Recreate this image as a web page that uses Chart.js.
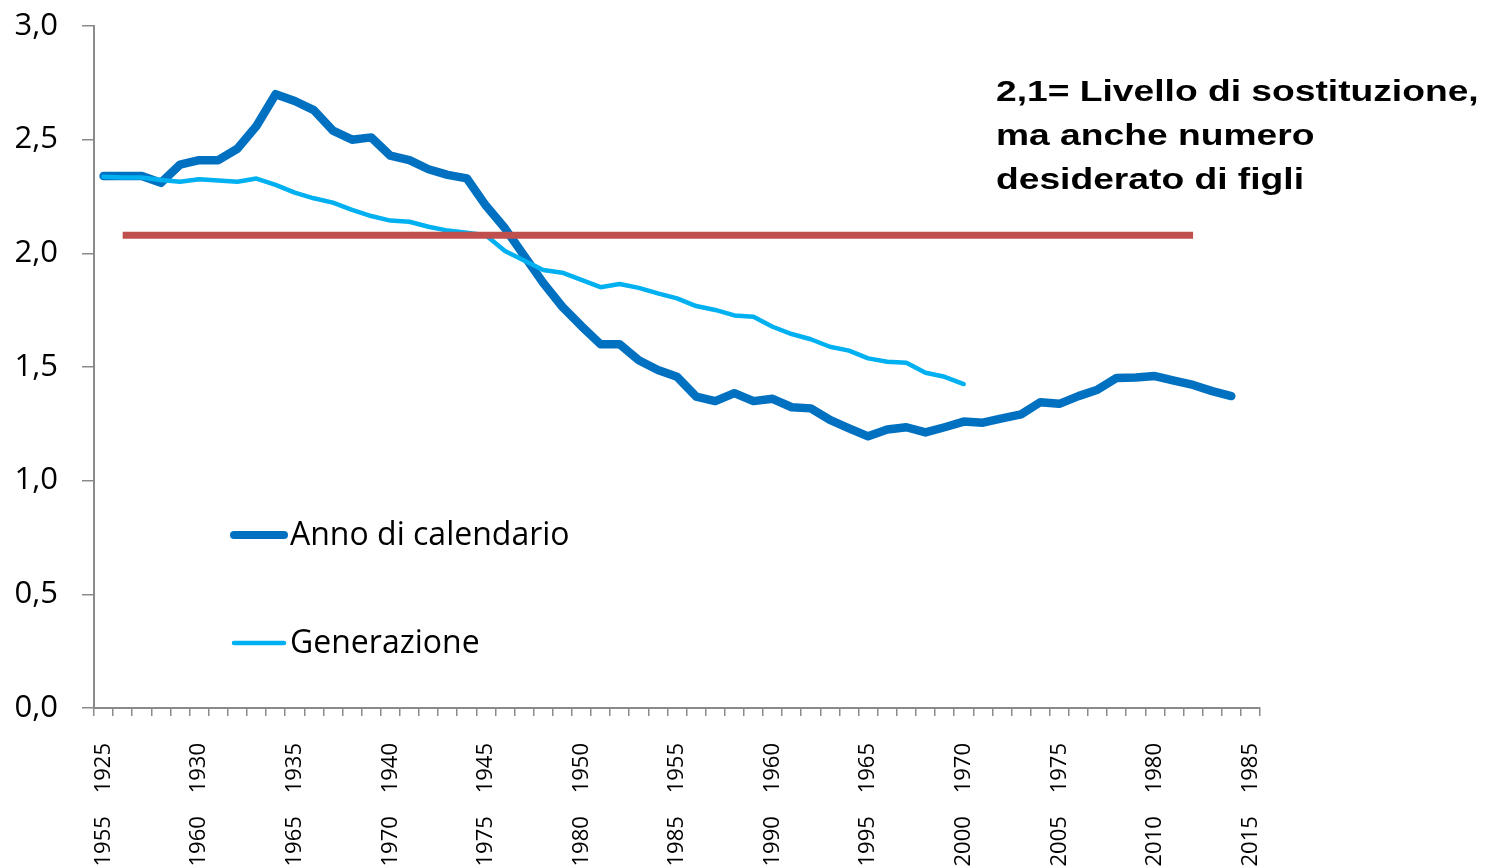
<!DOCTYPE html>
<html>
<head>
<meta charset="utf-8">
<script src="https://cdn.jsdelivr.net/npm/chart.js@4.4.1/dist/chart.umd.min.js"></script>
<style>
  html, body { margin: 0; padding: 0; background: #ffffff; }
  #wrap { position: relative; width: 1485px; height: 868px; overflow: hidden; }
  #note {
    position: absolute; left: 996px; top: 69px;
    font-family: "Liberation Sans", Arial, sans-serif; font-weight: bold;
    font-size: 30px; line-height: 44px; color: #000; white-space: nowrap;
    transform: scaleX(1.24); transform-origin: 0 0;
  }
</style>
</head>
<body>
<div id="wrap">
  <canvas id="c" width="1485" height="868"></canvas>
  <div id="note">2,1= Livello di sostituzione,<br>ma anche numero<br>desiderato di figli</div>
</div>
<script>
// Calendar years (1955-2015) and the matching generations (1925-1985)
const calendarYears = [];
for (let y = 1955; y <= 2015; y++) calendarYears.push(y);

// Tick labels shown every five years
const tickYearsCalendar = [1955,1960,1965,1970,1975,1980,1985,1990,1995,2000,2005,2010,2015];
const tickYearsGeneration = [1925,1930,1935,1940,1945,1950,1955,1960,1965,1970,1975,1980,1985];

// TFR by calendar year, 1955-2014
const annoDiCalendario = [
  2.34,2.34,2.34,2.31,2.39,2.41,2.41,2.46,2.56,2.70,
  2.67,2.63,2.54,2.50,2.51,2.43,2.41,2.37,2.345,2.33,
  2.21,2.11,1.99,1.87,1.765,1.68,1.60,1.60,1.53,1.487,
  1.457,1.37,1.35,1.385,1.35,1.36,1.323,1.318,1.267,1.23,
  1.195,1.225,1.235,1.212,1.235,1.26,1.255,1.274,1.292,1.345,
  1.338,1.372,1.40,1.452,1.454,1.46,1.44,1.421,1.394,1.372
];

// Completed fertility by generation, 1925-1970
const generazione = [
  2.337,2.334,2.334,2.323,2.315,2.326,2.32,2.315,2.329,2.301,
  2.267,2.242,2.223,2.191,2.164,2.144,2.139,2.117,2.10,2.091,
  2.08,2.01,1.968,1.927,1.915,1.883,1.851,1.865,1.848,1.824,
  1.802,1.768,1.751,1.727,1.721,1.677,1.645,1.622,1.589,1.572,
  1.538,1.523,1.519,1.475,1.457,1.425
];

// Replacement level reference line (from 1956 to 2012)
const livelloSostituzione = calendarYears.map(y => (y >= 1956 && y <= 2012) ? 2.08 : null);

const seriesNames = ['Anno di calendario', 'Generazione'];
const colDark = '#0070C0', colLight = '#00B0F0', colRed = '#C0504D';
const axisGray = '#8a8a8a';

const legendPlugin = {
  id: 'customLegend',
  afterDraw(chart) {
    const ctx = chart.ctx;
    ctx.save();
    ctx.lineCap = 'round';
    ctx.strokeStyle = colDark; ctx.lineWidth = 8;
    ctx.beginPath(); ctx.moveTo(234, 535); ctx.lineTo(284, 535); ctx.stroke();
    ctx.strokeStyle = colLight; ctx.lineWidth = 4.5;
    ctx.beginPath(); ctx.moveTo(234, 643); ctx.lineTo(284, 643); ctx.stroke();
    ctx.fillStyle = '#000';
    ctx.font = '32px "Open Sans"';
    ctx.textBaseline = 'alphabetic';
    ctx.textAlign = 'left';
    ctx.fillText(seriesNames[0], 290, 545);
    ctx.fillText(seriesNames[1], 290, 653);
    ctx.restore();
  }
};

new Chart(document.getElementById('c'), {
  type: 'line',
  data: {
    labels: calendarYears.map(String),
    datasets: [
      { label: 'Livello di sostituzione', data: livelloSostituzione, borderColor: colRed,
        borderWidth: 7, borderCapStyle: 'butt', pointRadius: 0, order: 1, spanGaps: false },
      { label: seriesNames[1], data: generazione, borderColor: colLight,
        borderWidth: 4.5, borderCapStyle: 'round', borderJoinStyle: 'round', pointRadius: 0, order: 2 },
      { label: seriesNames[0], data: annoDiCalendario, borderColor: colDark,
        borderWidth: 8.5, borderCapStyle: 'round', borderJoinStyle: 'round', pointRadius: 0, order: 3 }
    ]
  },
  options: {
    responsive: false,
    animation: false,
    layout: { padding: { left: 0, right: 225, top: 26, bottom: 0 } },
    plugins: { legend: { display: false }, tooltip: { enabled: false } },
    elements: { line: { tension: 0 } },
    scales: {
      x: {
        type: 'category',
        offset: true,
        border: { display: true, color: axisGray, width: 2 },
        grid: { display: true, offset: true, drawOnChartArea: false, drawTicks: true,
                tickLength: 8, color: axisGray, lineWidth: 1.5 },
        ticks: {
          autoSkip: false, minRotation: 90, maxRotation: 90, padding: 27,
          color: '#000', font: { family: 'Open Sans', size: 22 },
          callback: function(value, index) {
            const cal = calendarYears[index];
            const k = tickYearsCalendar.indexOf(cal);
            return k >= 0 ? (tickYearsCalendar[k] + '    ' + tickYearsGeneration[k]) : '';
          }
        },
        afterFit(scale) {
          scale.height = 160;
          scale.paddingLeft = 0; scale.paddingRight = 0;
        }
      },
      y: {
        min: 0, max: 3,
        border: { display: true, color: axisGray, width: 2 },
        grid: { display: true, drawOnChartArea: false, drawTicks: true,
                tickLength: 12, color: axisGray, lineWidth: 1.5 },
        ticks: {
          stepSize: 0.5, padding: 24, color: '#000', font: { family: 'Open Sans', size: 31 },
          callback: v => v.toFixed(1).replace('.', ',')
        },
        afterFit(scale) {
          scale.width = 94;
          scale.paddingTop = 0; scale.paddingBottom = 0;
        }
      }
    }
  },
  plugins: [legendPlugin]
});
</script>
</body>
</html>
